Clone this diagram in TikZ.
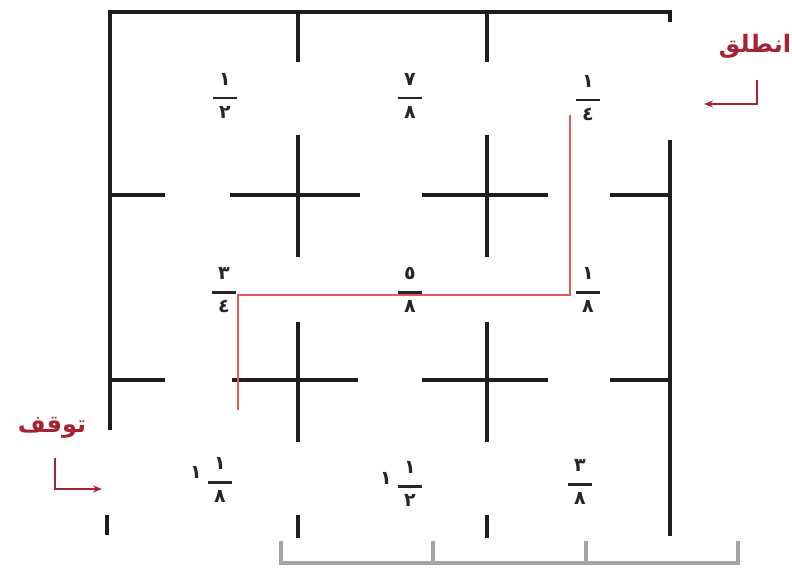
\documentclass[tikz,border=0pt]{standalone}
\usepackage{fontspec}
\TeXXeTstate=1
\newfontfamily\arabicfont[Script=Arabic]{DejaVu Sans}
\newfontfamily\digitfont{DejaVu Sans}
\usetikzlibrary{arrows.meta}
\definecolor{wallc}{RGB}{30,30,30}
\definecolor{pathc}{RGB}{225,90,90}
\definecolor{labc}{RGB}{165,35,50}
\definecolor{brk}{RGB}{165,165,165}
\newcommand{\afr}[2]{\begin{tabular}{@{}c@{}}#1\\[-3pt]\rule[3pt]{24pt}{2.4pt}\\[-4pt]#2\end{tabular}}
\tikzset{
  wall/.style={draw=wallc, line width=3.6pt},
  route/.style={draw=pathc, line width=2pt},
  frac/.style={inner sep=0pt, font=\digitfont\bfseries\fontsize{19}{20}\selectfont, text=black!85},
  lab/.style={inner sep=0pt, text=labc, font=\arabicfont\bfseries\fontsize{24}{26}\selectfont},
  guide/.style={draw=labc, line width=2pt, -{Stealth[length=9pt,width=7pt]}},
  bracket/.style={draw=brk, line width=4pt}
}
\begin{document}
\begin{tikzpicture}[x=1pt,y=-1pt]
\useasboundingbox (0,0) rectangle (792,577);
% outer walls
\draw[wall] (670,22) -- (670,12) -- (110,12) -- (110,430);
\draw[wall] (670,140) -- (670,536);
\draw[wall] (107,515) -- (107,535);
% top stubs
\draw[wall] (298,12) -- (298,62);
\draw[wall] (487,12) -- (487,62);
% row 1 crosses and stubs
\draw[wall] (298,135) -- (298,257);
\draw[wall] (230,195) -- (360,195);
\draw[wall] (487,135) -- (487,257);
\draw[wall] (422,195) -- (548,195);
\draw[wall] (110,195) -- (165,195);
\draw[wall] (610,195) -- (670,195);
% row 2 crosses and stubs
\draw[wall] (298,322) -- (298,442);
\draw[wall] (232,380) -- (358,380);
\draw[wall] (487,322) -- (487,442);
\draw[wall] (422,380) -- (548,380);
\draw[wall] (110,380) -- (165,380);
\draw[wall] (610,380) -- (670,380);
% bottom stubs
\draw[wall] (298,515) -- (298,538);
\draw[wall] (487,515) -- (487,538);
% red route
\coordinate (r1) at (570,115);
\coordinate (r2) at (570,295);
\coordinate (r3) at (238,295);
\coordinate (r4) at (238,410);
\draw[route] (r1) -- (r2) -- (r3) -- (r4);
% fractions
\node[frac] (f11) at (225,98) {\afr{١}{٢}};
\node[frac] (f12) at (410,98) {\afr{٧}{٨}};
\node[frac] (f13) at (588,100) {\afr{١}{٤}};
\node[frac] (f21) at (224,292) {\afr{٣}{٤}};
\node[frac] (f22) at (410,292) {\afr{٥}{٨}};
\node[frac] (f23) at (588,292) {\afr{١}{٨}};
\node[frac] (w31) at (196,472) {١};
\node[frac] (f31) at (220,482) {\afr{١}{٨}};
\node[frac] (w32) at (386,478) {١};
\node[frac] (f32) at (410,486) {\afr{١}{٢}};
\node[frac] (f33) at (580,484) {\afr{٣}{٨}};
% labels and arrows
\node[lab] (start) at (755,46) {\beginR انطلق\endR};
\coordinate (s1) at (757,80);
\coordinate (s2) at (757,104);
\coordinate (s3) at (704,104);
\draw[guide] (s1) -- (s2) -- (s3);
\node[lab] (stop) at (52,428) {\beginR توقف\endR};
\coordinate (t1) at (55,458);
\coordinate (t2) at (55,489);
\coordinate (t3) at (102,489);
\draw[guide] (t1) -- (t2) -- (t3);
% bracket
\coordinate (b1) at (281,541);
\coordinate (b2) at (281,563);
\coordinate (b3) at (738,563);
\coordinate (b4) at (738,541);
\coordinate (b5) at (433,541);
\coordinate (b6) at (433,563);
\coordinate (b7) at (586,541);
\coordinate (b8) at (586,563);
\draw[bracket] (b1) -- (b2) -- (b3) -- (b4);
\draw[bracket] (b5) -- (b6);
\draw[bracket] (b7) -- (b8);
\end{tikzpicture}
\end{document}
